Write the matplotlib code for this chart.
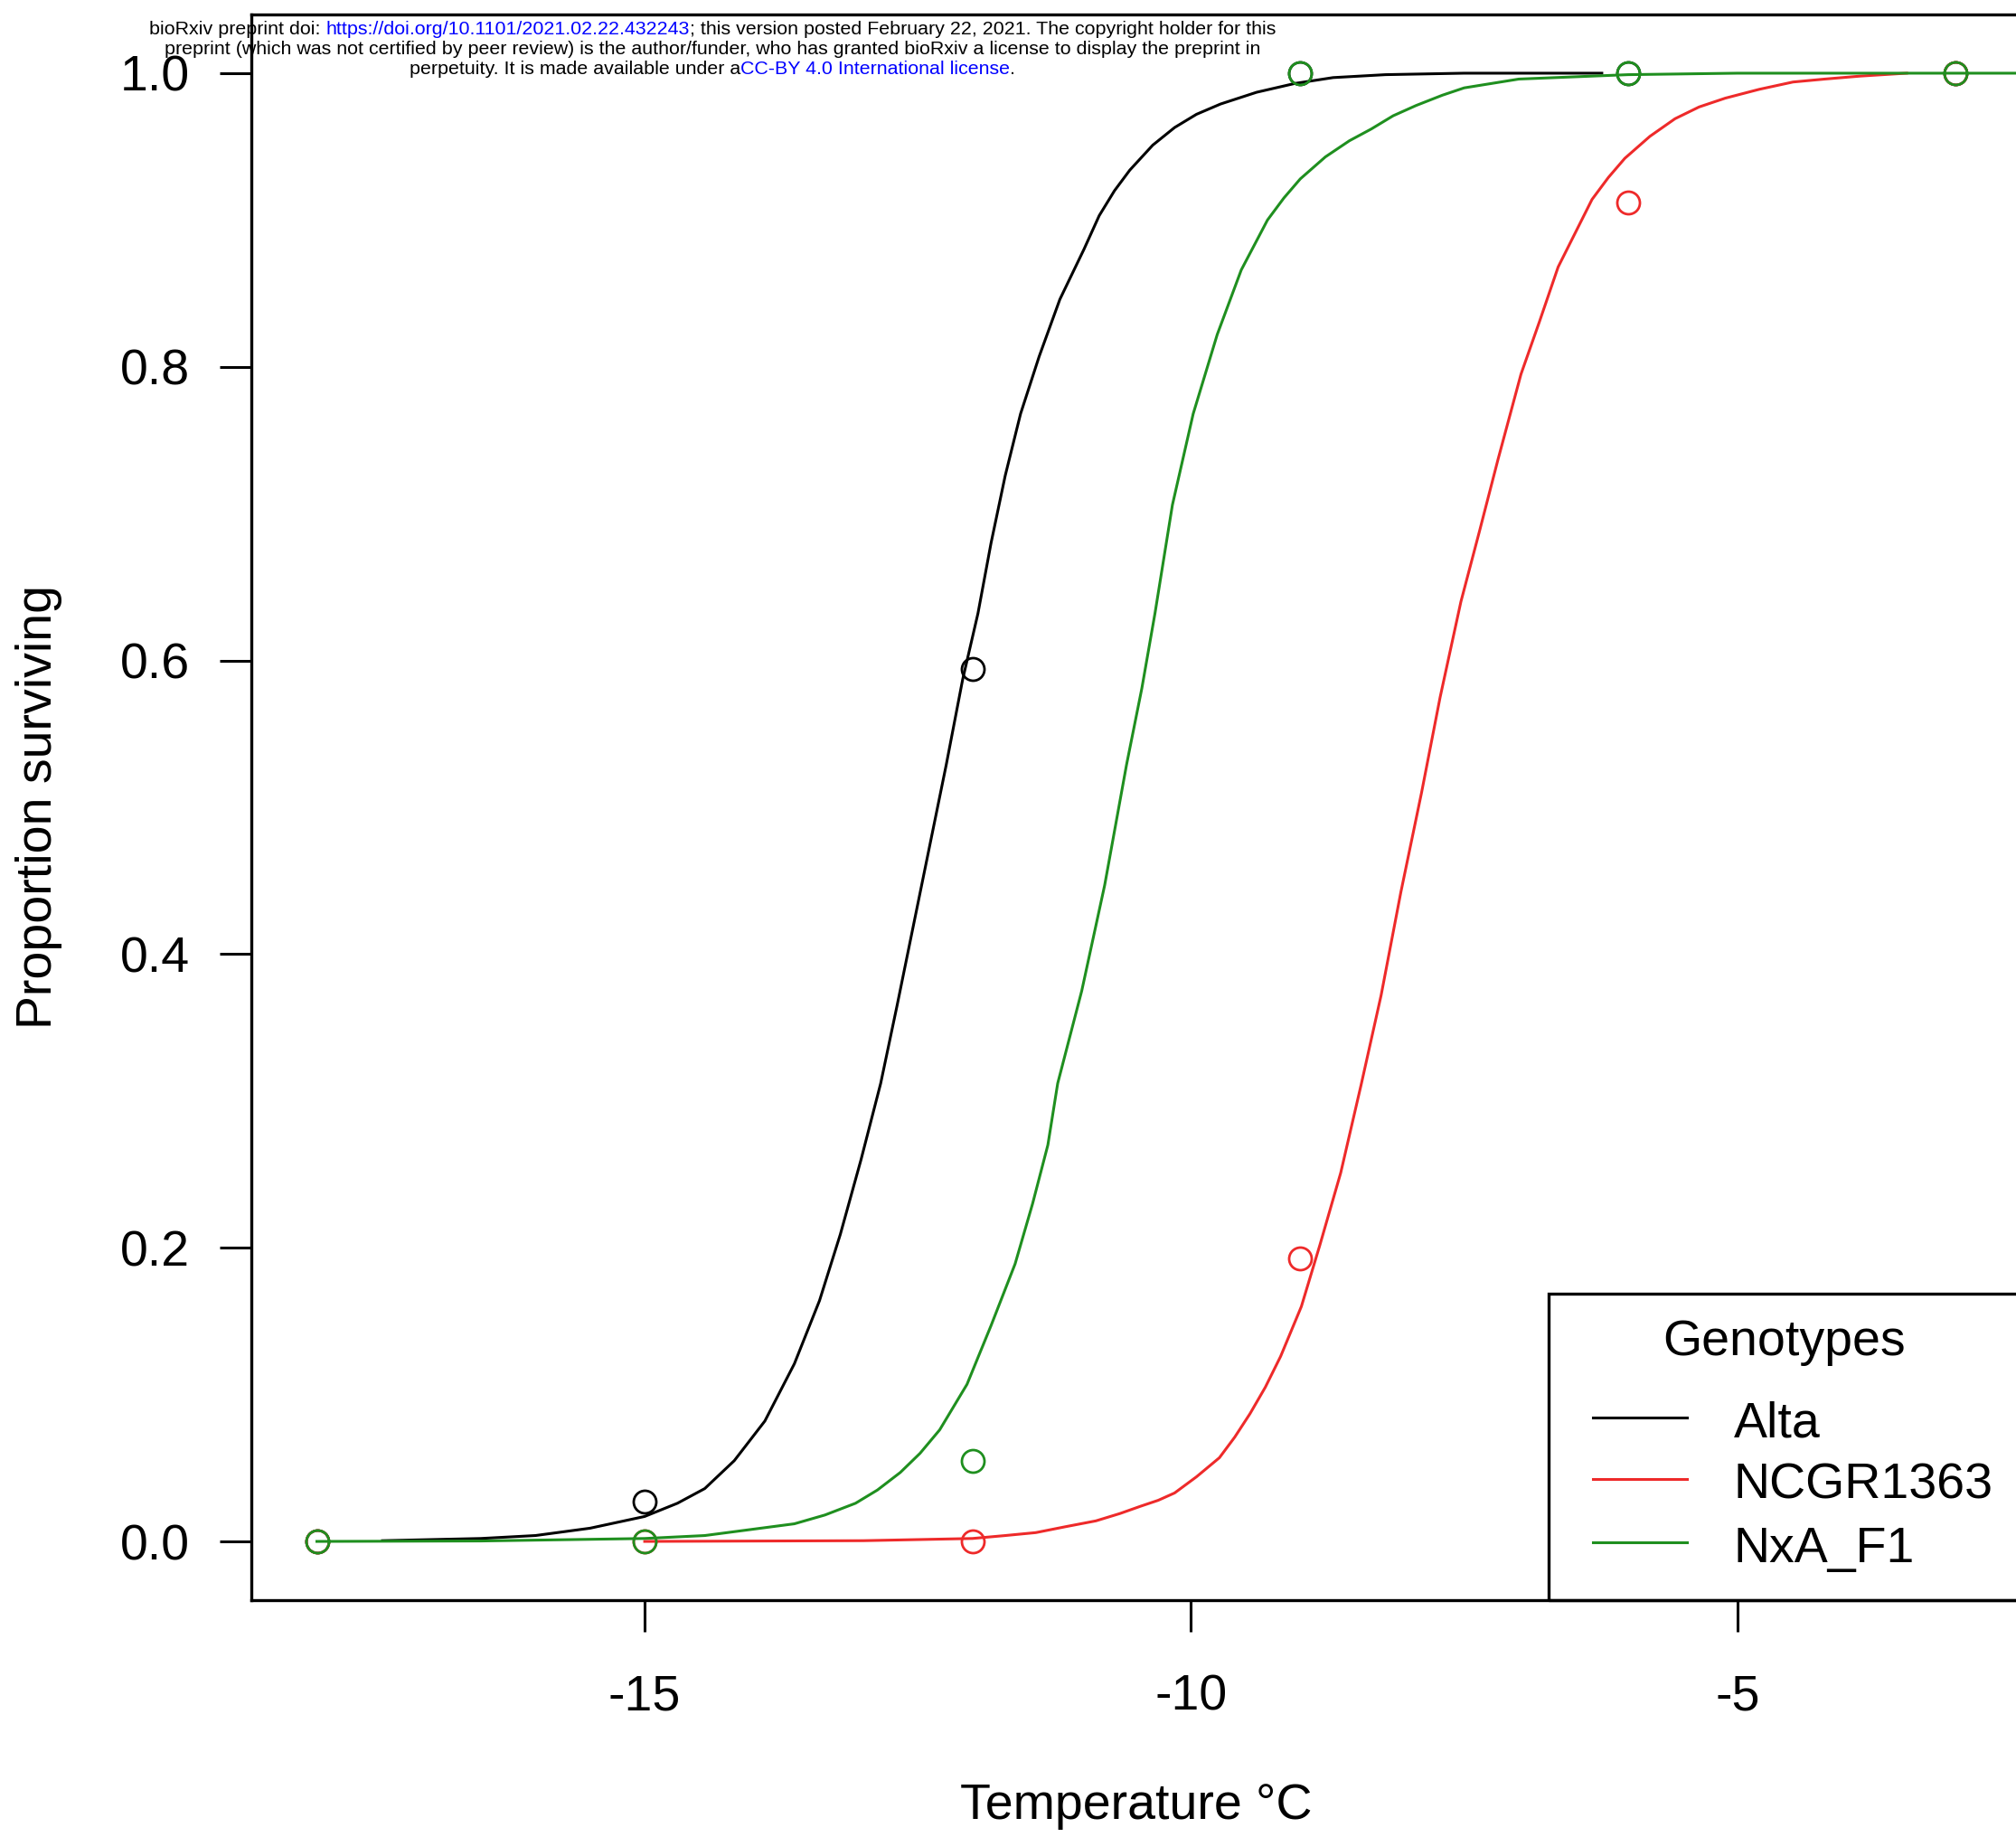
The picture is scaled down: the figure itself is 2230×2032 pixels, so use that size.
import matplotlib
matplotlib.use('Agg')
import matplotlib.pyplot as plt
from matplotlib.lines import Line2D
from matplotlib.patches import Rectangle
from matplotlib.ticker import FormatStrFormatter

plt.rcParams['font.family'] = ['Liberation Sans', 'DejaVu Sans']
plt.rcParams['axes.unicode_minus'] = False

W, H, DPI = 2230, 2032, 100
OUT = 'out.png'

# Observed survival per test temperature
temps = [-18, -15, -12, -9, -6, -3]
alta_obs = [0.0, 0.027, 0.594, 1.0, 1.0, 1.0]
ncgr_obs = [0.0, 0.0, 0.0, 0.193, 0.912, 1.0]
nxa_obs = [0.0, 0.0, 0.055, 1.0, 1.0, 1.0]

# Fitted curves
alta_fit_x = [-17.4, -16.5, -16.0, -15.5, -15.0, -14.7, -14.45, -14.18, -13.9, -13.63,
              -13.4, -13.21, -13.02, -12.84, -12.69, -12.52, -12.38, -12.24, -12.09,
              -11.95, -11.83, -11.7, -11.56, -11.39, -11.2, -10.98, -10.84, -10.7,
              -10.56, -10.35, -10.15, -9.95, -9.73, -9.4, -9.05, -8.7, -8.22, -7.5, -6.24]
alta_fit_y = [0.0005, 0.002, 0.004, 0.009, 0.017, 0.026, 0.036, 0.055, 0.082, 0.121,
              0.164, 0.209, 0.26, 0.312, 0.365, 0.427, 0.478, 0.529, 0.587,
              0.632, 0.68, 0.726, 0.768, 0.807, 0.846, 0.88, 0.903, 0.92,
              0.934, 0.951, 0.963, 0.972, 0.979, 0.987, 0.993, 0.997, 0.999, 1.0, 1.0]

ncgr_fit_x = [-15.0, -13.0, -12.0, -11.7, -11.42, -11.15, -10.87, -10.65, -10.46, -10.3,
              -10.15, -9.95, -9.74, -9.6, -9.46, -9.32, -9.18, -8.99, -8.82, -8.63,
              -8.44, -8.26, -8.08, -7.89, -7.72, -7.53, -7.36, -7.19, -6.98, -6.81,
              -6.64, -6.33, -6.18, -6.03, -5.8, -5.57, -5.35, -5.11, -4.8, -4.49,
              -4.2, -3.88, -3.45]
ncgr_fit_y = [0.0, 0.0005, 0.002, 0.004, 0.006, 0.01, 0.014, 0.019, 0.024, 0.028,
              0.033, 0.044, 0.057, 0.071, 0.087, 0.105, 0.126, 0.16, 0.202, 0.251,
              0.312, 0.372, 0.442, 0.51, 0.575, 0.64, 0.688, 0.737, 0.795, 0.831,
              0.868, 0.914, 0.929, 0.942, 0.957, 0.969, 0.977, 0.983, 0.989, 0.994,
              0.996, 0.998, 1.0]

nxa_fit_x = [-18.0, -16.5, -15.0, -14.45, -13.63, -13.35, -13.07, -12.87, -12.66, -12.48,
             -12.3, -12.05, -11.83, -11.61, -11.45, -11.31, -11.22, -11.0, -10.79,
             -10.59, -10.45, -10.33, -10.17, -9.98, -9.76, -9.54, -9.3, -9.15, -9.0,
             -8.77, -8.55, -8.35, -8.15, -7.94, -7.7, -7.5, -7.25, -7.0, -6.0, -5.0, -2.4]
nxa_fit_y = [0.0, 0.0003, 0.002, 0.004, 0.012, 0.018, 0.026, 0.035, 0.047, 0.06,
             0.076, 0.107, 0.147, 0.189, 0.23, 0.27, 0.312, 0.375, 0.447,
             0.529, 0.581, 0.632, 0.706, 0.768, 0.822, 0.866, 0.9, 0.915, 0.928,
             0.943, 0.954, 0.962, 0.971, 0.978, 0.985, 0.99, 0.993, 0.996, 0.999, 1.0, 1.0]

genotypes = ['Alta', 'NCGR1363', 'NxA_F1']
colors = ['black', '#EE2A2A', '#1F8F1F']

x_ticks = [-15, -10, -5]
y_ticks = [0.0, 0.2, 0.4, 0.6, 0.8, 1.0]

header = [
    [('bioRxiv preprint doi: ', 'black'),
     ('https://doi.org/10.1101/2021.02.22.432243', 'blue'),
     ('; this version posted February 22, 2021. The copyright holder for this', 'black')],
    [('preprint (which was not certified by peer review) is the author/funder, '
      'who has granted bioRxiv a license to display the preprint in', 'black')],
    [('perpetuity. It is made available under a', 'black'),
     ('CC-BY 4.0 International license', 'blue'),
     ('.', 'black')],
]


def fx(px):
    return px / W


def fy(py):
    return 1 - py / H


def main():
    fig = plt.figure(figsize=(W / DPI, H / DPI), dpi=DPI)
    ax = fig.add_axes([fx(278), fy(1770), fx(2236) - fx(278), fy(16) - fy(1770)])

    fits = [(alta_fit_x, alta_fit_y), (ncgr_fit_x, ncgr_fit_y), (nxa_fit_x, nxa_fit_y)]
    obs = [alta_obs, ncgr_obs, nxa_obs]
    for (cx, cy), o, c in zip(fits, obs, colors):
        ax.plot(cx, cy, color=c, lw=2.2, solid_joinstyle='round')
        ax.plot(temps, o, 'o', ms=18, mfc='none', mec=c, mew=2.0)

    ax.set_xlim(-18.6, -2.4)
    ax.set_ylim(-0.04, 1.04)
    ax.set_xticks(x_ticks)
    ax.set_yticks(y_ticks)
    ax.yaxis.set_major_formatter(FormatStrFormatter('%.1f'))
    ax.tick_params(direction='out', length=25, width=2.2, labelsize=40, colors='black')
    ax.tick_params(axis='x', pad=34)
    ax.tick_params(axis='y', pad=24)
    for s in ax.spines.values():
        s.set_linewidth(2.4)

    ax.set_xlabel('Temperature \u00b0C', fontsize=40)
    ax.xaxis.label.set_va('center')
    ax.xaxis.set_label_coords(0.5, -(1998 - 1770) / (1770 - 16))
    ax.set_ylabel('Proportion surviving', fontsize=40)
    ax.yaxis.label.set_va('center')
    ax.yaxis.set_label_coords((43 - 278) / (2236 - 278), 0.5)

    # legend drawn by hand to match the R layout
    fig.add_artist(Rectangle((fx(1713), fy(1770)), fx(2236) - fx(1713), fy(1431) - fy(1770),
                             transform=fig.transFigure, fill=False, lw=2.4, ec='black'))
    fig.text(fx(1974), fy(1499), 'Genotypes', fontsize=40, ha='center', va='baseline')
    line_y = [1568, 1636, 1706]
    base_y = [1590, 1658, 1728]
    for g, c, ly, by in zip(genotypes, colors, line_y, base_y):
        fig.add_artist(Line2D([fx(1762), fx(1866)], [fy(ly), fy(ly)], color=c, lw=2.2,
                              transform=fig.transFigure))
        fig.text(fx(1918), fy(by), g, fontsize=40, ha='left', va='baseline')

    # preprint header
    renderer = fig.canvas.get_renderer()
    hs = 15.4

    def width(s):
        t = fig.text(0, 0, s + '|', fontsize=hs)
        w = t.get_window_extent(renderer).width
        t.remove()
        t = fig.text(0, 0, '|', fontsize=hs)
        w -= t.get_window_extent(renderer).width
        t.remove()
        return w

    for line, cy in zip(header, [33, 55, 77]):
        full = ''.join(s for s, _ in line)
        x0 = 788 - width(full) / 2
        prefix = ''
        for s, c in line:
            fig.text(fx(x0 + width(prefix)), fy(cy), s, fontsize=hs, color=c,
                     ha='left', va='center')
            prefix += s

    fig.savefig(OUT, dpi=DPI)
    plt.close(fig)


if __name__ == '__main__':
    main()
